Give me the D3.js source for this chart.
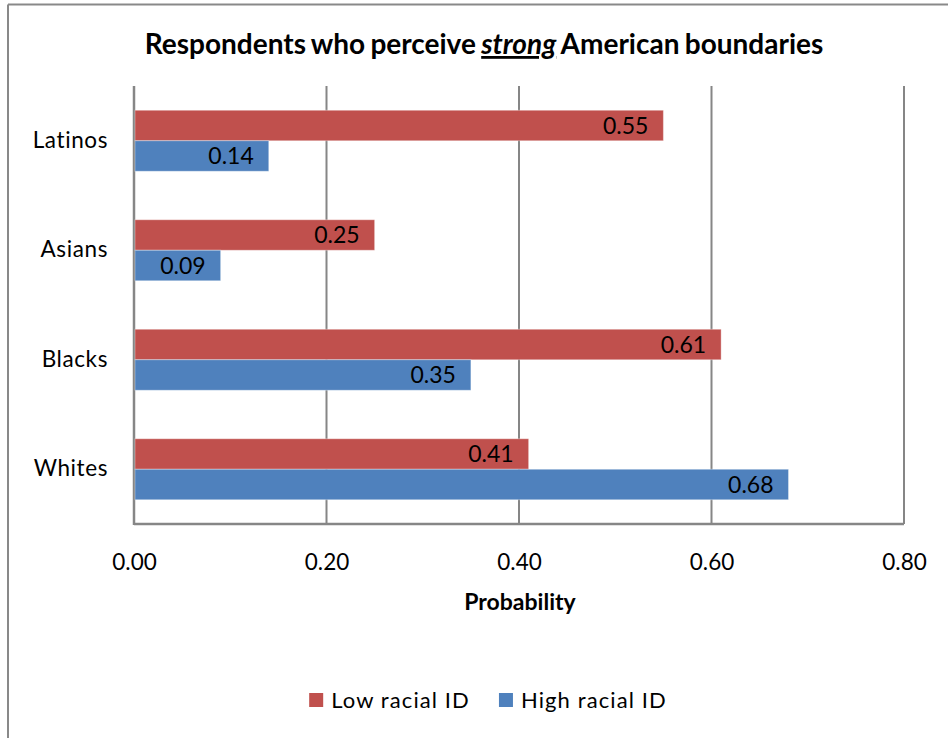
<!DOCTYPE html>
<html>
<head>
<meta charset="utf-8">
<script src="https://cdn.jsdelivr.net/npm/d3@7"></script>
<style>
  html, body { margin: 0; padding: 0; background: #fff; }
  svg { display: block; font-family: Lato, "Open Sans", sans-serif; }
</style>
</head>
<body>
<svg id="chart" width="948" height="738"></svg>
<script>
// Groups, listed top to bottom
const categories = ["Latinos", "Asians", "Blacks", "Whites"];
// Series names
const seriesNames = ["Low racial ID", "High racial ID"];
// Probability of perceiving strong boundaries, per group
const lowRacialID = [0.55, 0.25, 0.61, 0.41];
const highRacialID = [0.14, 0.09, 0.35, 0.68];
// Axis ticks
const xTicks = [0, 0.2, 0.4, 0.6, 0.8];

const colors = ["#C0504D", "#4F81BD"];
const gridColor = "#868686";

const svg = d3.select("#chart");
const W = 948, H = 738;
const plot = { left: 134, right: 904, top: 86, bottom: 524 };

// outer frame (top and left edges visible)
svg.append("line").attr("x1", 8).attr("x2", W).attr("y1", 4.5).attr("y2", 4.5)
  .attr("stroke", "#898989").attr("stroke-width", 2);
svg.append("line").attr("x1", 8).attr("x2", 8).attr("y1", 4.5).attr("y2", H)
  .attr("stroke", "#898989").attr("stroke-width", 2);

// title
const title = svg.append("text")
  .attr("x", 484).attr("y", 54)
  .attr("text-anchor", "middle")
  .attr("font-size", 28).attr("font-weight", "bold").attr("fill", "#000")
  .style("word-spacing", "-1.5px");
title.append("tspan").text("Respondents who perceive ");
title.append("tspan").text("strong").attr("font-style", "italic").attr("text-decoration", "underline");
title.append("tspan").text(" American boundaries");

const x = d3.scaleLinear().domain([0, 0.8]).range([plot.left, plot.right]);
const y = d3.scaleBand().domain(categories).range([plot.top, plot.bottom])
  .paddingInner(0.443).paddingOuter(0.2215);
const ySub = d3.scaleBand().domain(seriesNames).range([0, y.bandwidth()]);

// vertical gridlines
svg.append("g").selectAll("line")
  .data(xTicks.filter(t => t > 0))
  .join("line")
  .attr("x1", d => x(d)).attr("x2", d => x(d))
  .attr("y1", plot.top).attr("y2", plot.bottom)
  .attr("stroke", gridColor).attr("stroke-width", 2);

// x axis
const xAxis = svg.append("g")
  .attr("transform", `translate(0,${plot.bottom})`)
  .call(d3.axisBottom(x).tickValues(xTicks).tickFormat(d3.format(".2f")).tickSize(0).tickPadding(30));
xAxis.select(".domain").attr("stroke", gridColor).attr("stroke-width", 2.5)
  .attr("d", `M${plot.left},0H${plot.right}`);
xAxis.selectAll("text").attr("font-size", 22.5).attr("font-family", "Lato, sans-serif").attr("fill", "#000");

// y axis
const yAxis = svg.append("g")
  .attr("transform", `translate(${plot.left},0)`)
  .call(d3.axisLeft(y).tickSize(0).tickPadding(26));
yAxis.select(".domain").attr("stroke", gridColor).attr("stroke-width", 2.5)
  .attr("d", `M0,${plot.top}V${plot.bottom + 1}`);
yAxis.selectAll("text").attr("font-size", 22.5).attr("font-family", "Lato, sans-serif")
  .attr("fill", "#000").style("letter-spacing", "0.6px");

// axis title
svg.append("text")
  .attr("x", 520).attr("y", 610)
  .attr("text-anchor", "middle")
  .attr("font-size", 23).attr("font-weight", "bold").attr("fill", "#000")
  .text("Probability");

// bars
const rows = categories.map((c, i) => ({
  category: c,
  values: [
    { series: seriesNames[0], value: lowRacialID[i], color: colors[0] },
    { series: seriesNames[1], value: highRacialID[i], color: colors[1] }
  ]
}));

const groups = svg.append("g").selectAll("g")
  .data(rows)
  .join("g")
  .attr("transform", d => `translate(0,${y(d.category)})`);

groups.selectAll("rect")
  .data(d => d.values)
  .join("rect")
  .attr("x", x(0) + 1)
  .attr("y", d => ySub(d.series))
  .attr("width", d => x(d.value) - x(0) - 1)
  .attr("height", ySub.bandwidth())
  .attr("fill", d => d.color)
  .attr("stroke", "rgba(255,255,255,0.35)")
  .attr("stroke-width", 1);

groups.selectAll("text")
  .data(d => d.values)
  .join("text")
  .attr("x", d => x(d.value) - 15)
  .attr("y", d => ySub(d.series) + ySub.bandwidth() / 2)
  .attr("dy", "0.36em")
  .attr("text-anchor", "end")
  .attr("font-size", 23).attr("fill", "#000")
  .text(d => d3.format(".2f")(d.value));

// legend
const legend = svg.append("g");
const items = legend.selectAll("g")
  .data(seriesNames)
  .join("g");
items.append("rect")
  .attr("width", 14).attr("height", 14)
  .attr("y", -7)
  .attr("fill", (d, i) => colors[i]);
items.append("text")
  .attr("x", 22).attr("dy", "0.36em")
  .attr("font-size", 22).attr("fill", "#000")
  .style("letter-spacing", "1.1px")
  .text(d => d);
const widths = [];
items.each(function () { widths.push(this.getBBox().width); });
const gap = 29;
const total = d3.sum(widths) + gap * (widths.length - 1);
let cx = 488 - total / 2;
items.attr("transform", (d, i) => {
  const t = `translate(${cx},${700})`;
  cx += widths[i] + gap;
  return t;
});
</script>
</body>
</html>
